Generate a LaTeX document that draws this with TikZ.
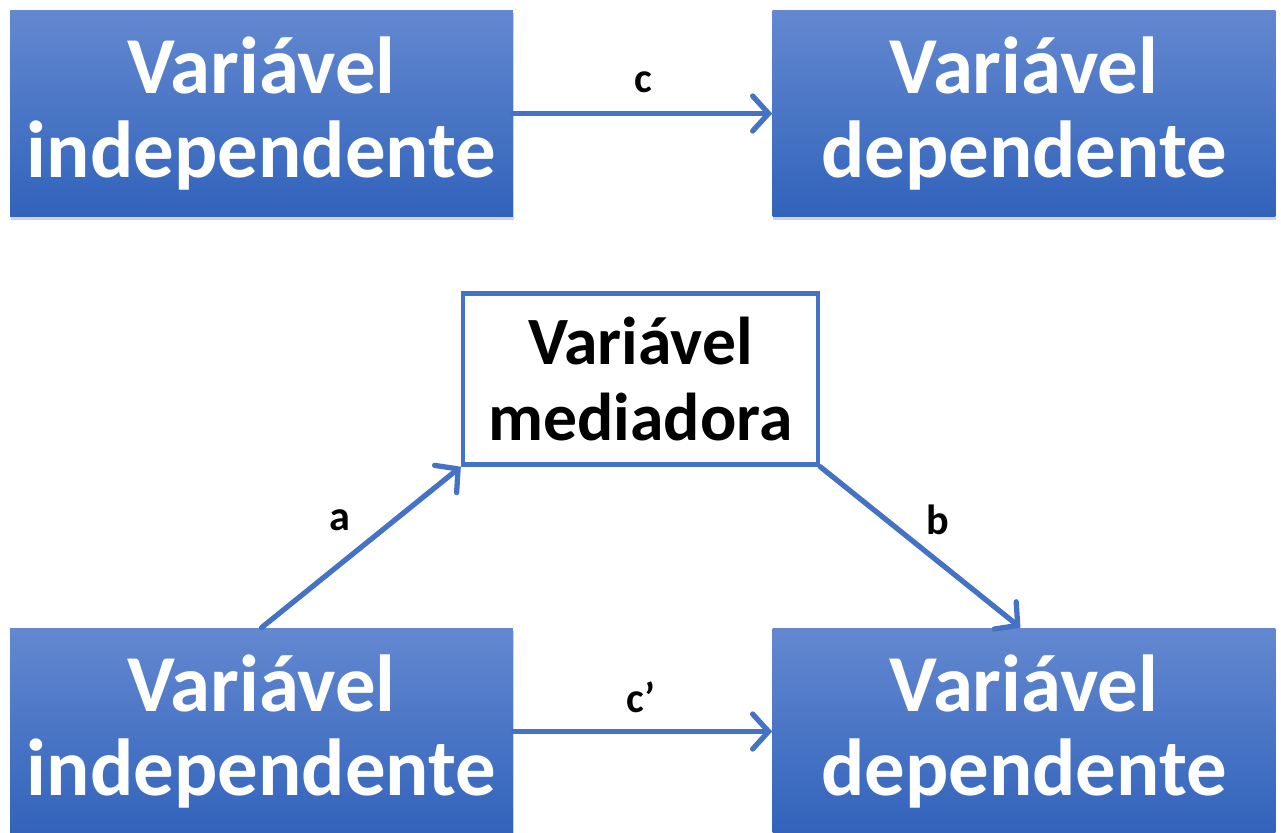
\documentclass[tikz,border=0pt]{standalone}
\usepackage{fontspec}
\setmainfont{Carlito}
\usetikzlibrary{arrows.meta, shadows}
\definecolor{boxtop}{HTML}{6388D0}
\definecolor{boxbot}{HTML}{3163BB}
\definecolor{arrowblue}{HTML}{4472C4}
\tikzset{
varbox/.style={rectangle, top color=boxtop, bottom color=boxbot, draw=none,
  minimum width=10.06cm, minimum height=4.14cm, text=white, align=center,
  font=\fontsize{46}{48}\selectfont\bfseries,
  drop shadow={shadow xshift=0.5pt, shadow yshift=-1.5pt, opacity=0.35}},
medbox/.style={rectangle, draw=arrowblue, line width=2.5pt, fill=white,
  minimum width=7.1cm, minimum height=3.42cm, align=center,
  font=\fontsize{38.5}{43}\selectfont\bfseries},
path/.style={draw=arrowblue, line width=3pt, line cap=round,
  -{Straight Barb[length=3.2mm,width=7mm,line cap=round]}},
coef/.style={font=\fontsize{24}{26}\selectfont\bfseries}
}
\begin{document}
\begin{tikzpicture}[x=0.02cm, y=-0.02cm]
\useasboundingbox (0,0) rectangle (1281,832);
% modelo direto
\node[varbox] (xtop) at (261.5,113.5) {Variável\\independente};
\node[varbox] (ytop) at (1024,113.5) {Variável\\dependente};
\draw[path] (xtop.east) -- (ytop.west);
\node[coef] (lc) at (643,82) {c};
% modelo com mediador
\node[medbox] (med) at (640.5,379) {Variável\\mediadora};
\node[varbox] (xbot) at (261.5,731.5) {Variável\\independente};
\node[varbox] (ybot) at (1024,731.5) {Variável\\dependente};
\draw[path] (xbot.north) -- (med.south west);
\draw[path] (med.south east) -- ([xshift=-2]ybot.north);
\draw[path] (xbot.east) -- (ybot.west);
\node[coef] (la) at (340,520) {a};
\node[coef] (lb) at (938,520) {b};
\node[coef] (lcp) at (641,697) {c’};
\end{tikzpicture}
\end{document}
